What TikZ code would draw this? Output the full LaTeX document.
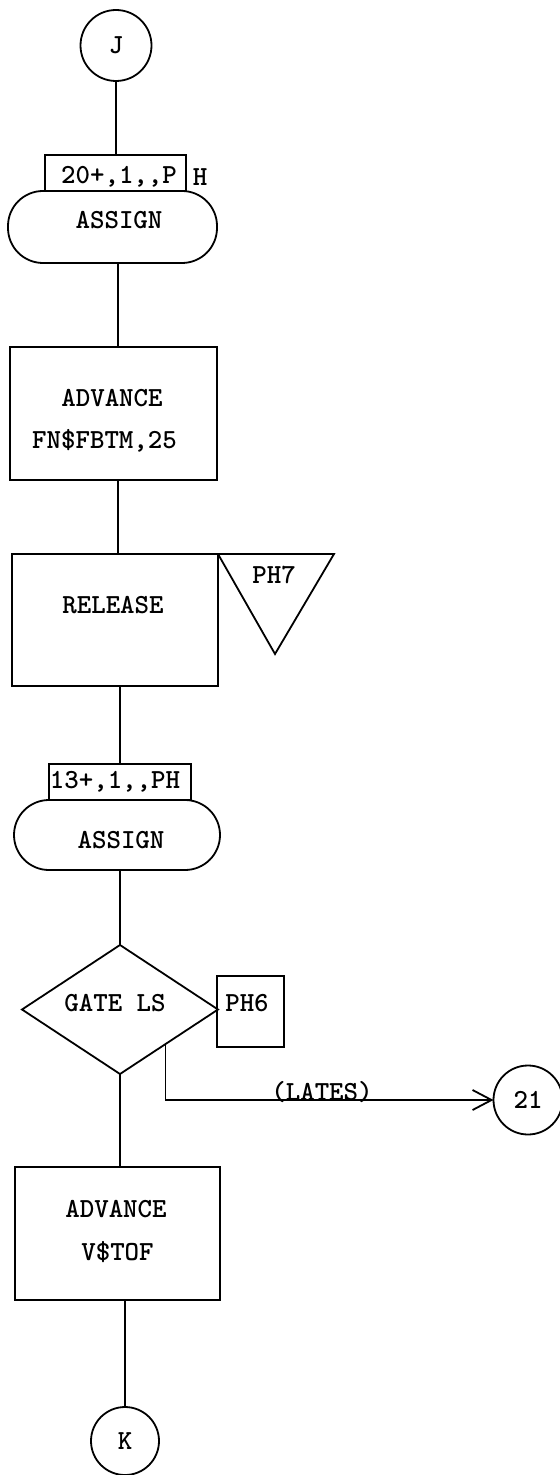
\documentclass[tikz,border=0pt]{standalone}
\usetikzlibrary{shapes.geometric,arrows.meta,calc}
\newcommand\typew{\ttfamily\bfseries\fontsize{13.8}{16}\selectfont}
\begin{document}
\begin{tikzpicture}[x=0.5pt,y=-0.5pt,line width=0.9pt,
  every node/.style={inner sep=0pt,outer sep=0pt},
  conn/.style={draw,circle,minimum size=#1},
  blk/.style 2 args={draw,rectangle,minimum width=#1,minimum height=#2},
  stad/.style 2 args={draw,rectangle,rounded corners=17.5pt,minimum width=#1,minimum height=#2},
  txt/.style={font=\typew},
  barb/.style={-{Straight Barb[length=9.5pt,width=10pt]}}
]
\fill[white] (0,0) rectangle (560,1475);
\useasboundingbox (0,0) rectangle (560,1475);

\coordinate (axtop) at (118,0);

% nodes
\node[conn=35.5pt,txt] (J) at (116,45.5) {J};
\node[blk={70.5pt}{18pt}] (lab1) at (115.5,173) {};
\node[txt] (lab1t) at (119,177) {20+,1,,P};
\node[txt] (H) at (200,177) {H};
\node[stad={104.5pt}{36pt}] (as1) at (112.5,227) {};
\node[txt] (as1t) at (119,220) {ASSIGN};

\node[blk={103.5pt}{66.5pt}] (adv1) at (113.5,413.5) {};
\node[txt] (adv1a) at (112,398) {ADVANCE};
\node[txt] (adv1b) at (104.5,441) {FN\$FBTM,25};

\node[blk={103pt}{66pt}] (rel) at (115,620) {};
\node[txt] (relt) at (113,605) {RELEASE};
\coordinate (triR) at (334,554);
\coordinate (triB) at (275,654);
\draw (rel.north east) -- (triR) -- (triB) -- cycle;
\node[txt] (ph7) at (274,575) {PH7};

\node[blk={71pt}{18pt}] (lab2) at (120,782) {};
\node[txt] (lab2t) at (115,782) {13+,1,,PH};
\node[stad={103pt}{35pt}] (as2) at (117,835) {};
\node[txt] (as2t) at (121,840) {ASSIGN};

\node[draw,diamond,minimum width=98pt,minimum height=64.5pt] (gate) at (120,1009.5) {};
\node[txt] (gatet) at (115,1003) {GATE LS};
\node[blk={33.5pt}{35.5pt}] (ph6) at (250.5,1011.5) {};
\node[txt] (ph6t) at (247,1003) {PH6};

\node[conn=34.5pt,txt] (c21) at (528,1100) {21};

\node[blk={102.5pt}{66.5pt}] (adv2) at (117.5,1233.5) {};
\node[txt] (adv2a) at (116,1209) {ADVANCE};
\node[txt] (adv2b) at (117.5,1252) {V\$TOF};

\node[conn=34pt,txt] (K) at (125,1441) {K};

% connectors
\draw (J) -- (J |- lab1.north);
\draw (as1.south -| axtop) -- (adv1.north -| axtop);
\draw (adv1.south -| axtop) -- (rel.north -| axtop);
\draw (rel.south -| gate) -- (lab2.north -| gate);
\draw (as2.south -| gate) -- (gate.north);
\draw (gate.south) -- (gate.south |- adv2.north);
\draw (adv2.south -| K) -- (K);

\coordinate (br) at ($(gate.east)!0.536!(gate.south)$);
\draw[barb] (br) |- (c21);
\node[txt,anchor=base] (lates) at (322,1100) {(LATES)};
\end{tikzpicture}
\end{document}
